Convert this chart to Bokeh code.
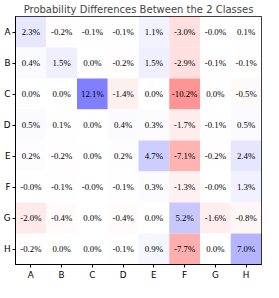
import numpy as np
from bokeh.plotting import figure
from bokeh.models import ColumnDataSource, FactorRange
from bokeh.embed import file_html
from bokeh.resources import INLINE

labels = ["A", "B", "C", "D", "E", "F", "G", "H"]
row_A = [2.3, -0.2, -0.1, -0.1, 1.1, -3.0, -0.0, 0.1]
row_B = [0.4, 1.5, 0.0, -0.2, 1.5, -2.9, -0.1, -0.1]
row_C = [0.0, 0.0, 12.1, -1.4, 0.0, -10.2, 0.0, -0.5]
row_D = [0.5, 0.1, 0.0, 0.4, 0.3, -1.7, -0.1, 0.5]
row_E = [0.2, -0.2, 0.0, 0.2, 4.7, -7.1, -0.2, 2.4]
row_F = [-0.0, -0.1, -0.0, -0.1, 0.3, -1.3, -0.0, 1.3]
row_G = [-2.0, -0.4, 0.0, -0.4, 0.0, 5.2, -1.6, -0.8]
row_H = [-0.2, 0.0, 0.0, -0.1, 0.9, -7.7, 0.0, 7.0]
rows = [row_A, row_B, row_C, row_D, row_E, row_F, row_G, row_H]

vmax = max(abs(v) for r in rows for v in r)

def bwr_color(v):
    t = max(-1.0, min(1.0, v / vmax))
    if t >= 0:
        r, g, b = 1 - t, 1 - t, 1.0
    else:
        r, g, b = 1.0, 1 + t, 1 + t
    # alpha 0.5 over white
    r, g, b = [0.5 * c + 0.5 for c in (r, g, b)]
    return "#%02x%02x%02x" % (round(r * 255), round(g * 255), round(b * 255))

xs, ys, vals, cols, txt = [], [], [], [], []
for ri, r in enumerate(rows):
    for ci, v in enumerate(r):
        xs.append(labels[ci])
        ys.append(labels[ri])
        vals.append(v)
        cols.append(bwr_color(v))
        txt.append(f"{v:.1f}%")

src = ColumnDataSource(dict(x=xs, y=ys, v=vals, c=cols, t=txt))

p = figure(width=263, height=282, x_range=FactorRange(*labels),
           y_range=FactorRange(*labels[::-1]),
           output_backend="svg", toolbar_location=None,
           title="Probability Differences Between the 2 Classes",
           min_border_left=4, min_border_right=2, min_border_top=0, min_border_bottom=0)
p.title.text_font = "DejaVu Sans"
p.title.text_font_size = "10px"
p.title.text_font_style = "normal"
p.title.align = "center"
p.title.standoff = 3

p.rect(x="x", y="y", width=1, height=1, fill_color="c", line_color=None, source=src)
p.text(x="x", y="y", text="t", source=src, text_align="center", text_baseline="middle",
       text_font_size="8.8px", text_font="DejaVu Sans", text_color="black")

p.grid.visible = False
p.outline_line_color = "black"
p.outline_line_width = 1
for ax in (p.xaxis[0], p.yaxis[0]):
    ax.axis_line_color = "black"
    ax.major_tick_out = 3
    ax.major_tick_in = 0
    ax.major_label_text_font = "DejaVu Sans"
    ax.major_label_text_font_size = "8.8px"
    ax.major_label_text_color = "black"
    ax.major_label_standoff = 2
p.yaxis[0].major_label_orientation = "horizontal"

p.x_range.range_padding = 0
p.y_range.range_padding = 0

open("out.html", "w").write(file_html(p, INLINE))
